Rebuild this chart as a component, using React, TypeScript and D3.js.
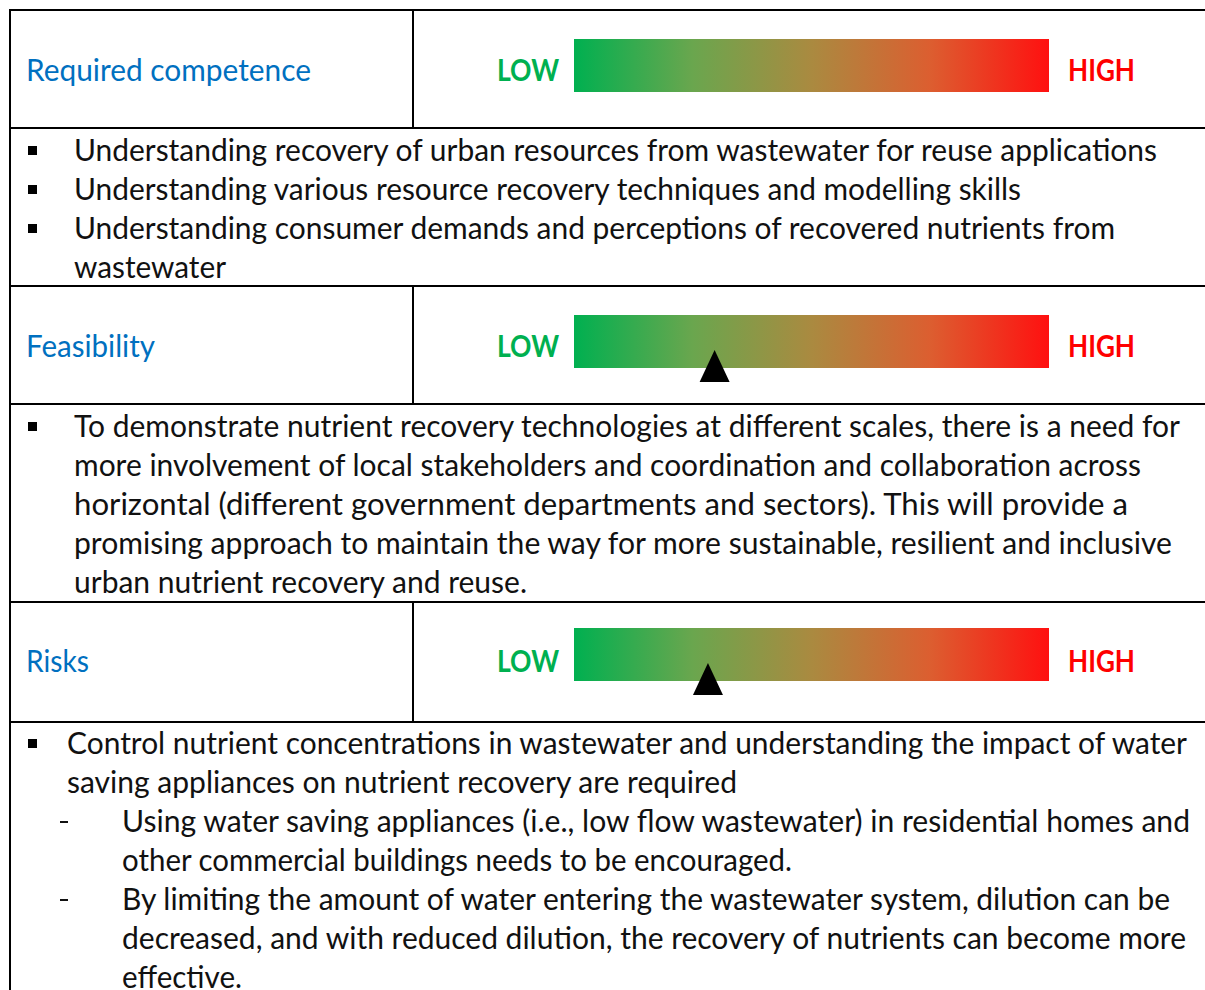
import React from 'react';
import * as d3 from 'd3';

// gauge rows: label + marker value on a 0..10 scale (null = no marker)
const rowLabels = ['Required competence', 'Feasibility', 'Risks'];
const ratings: (number | null)[] = [null, 2.96, 2.82];
const scaleEnds = ['LOW', 'HIGH'];
const gradientStops = ['#00B050', '#6AA64E', '#AA8A40', '#DC5E30', '#FF1010'];

const competenceLines = [
  'Understanding recovery of urban resources from wastewater for reuse applications',
  'Understanding various resource recovery techniques and modelling skills',
  'Understanding consumer demands and perceptions of recovered nutrients from',
  'wastewater'
];
const feasibilityLines = [
  'To demonstrate nutrient recovery technologies at different scales, there is a need for',
  'more involvement of local stakeholders and coordination and collaboration across',
  'horizontal (different government departments and sectors). This will provide a',
  'promising approach to maintain the way for more sustainable, resilient and inclusive',
  'urban nutrient recovery and reuse.'
];
const riskLines = [
  'Control nutrient concentrations in wastewater and understanding the impact of water',
  'saving appliances on nutrient recovery are required',
  'Using water saving appliances (i.e., low flow wastewater) in residential homes and',
  'other commercial buildings needs to be encouraged.',
  'By limiting the amount of water entering the wastewater system, dilution can be',
  'decreased, and with reduced dilution, the recovery of nutrients can become more',
  'effective.'
];

const W = 1205;
const H = 990;
const FONT = 'Lato, Carlito, Calibri, sans-serif';
const LINE = 39;

// measured right ends of each line, used to keep widths like the original
const competenceEnds = [1157, 1021, 1115, 226];
const feasibilityEnds = [1180, 1141, 1128, 1172, 527];
const riskEnds = [1187, 737, 1190, 792, 1170, 1186, 242];
const riskIndent = [67, 67, 122, 122, 122, 122, 122];
const riskBullets = ['square', null, 'dash', null, 'dash', null, null];

const labelEnds = [311, 155, 89];

const headerTops = [10, 286, 602];
const headerBottoms = [128, 404, 722];
const barTops = [39, 315, 628];
const labelBases = [81, 357, 672];

const x = d3.scaleLinear().domain([0, 10]).range([574, 1049]);

function Gauge({ barTop, base, value, idx }: { barTop: number; base: number; value: number | null; idx: number }) {
  const barH = 53;
  const triBase = barTop + barH + 14;
  const cx = value == null ? 0 : x(value);
  const tri = value == null ? null : d3.line()([
    [cx, barTop + 35],
    [cx - 15, triBase],
    [cx + 15, triBase]
  ]) + 'Z';
  return (
    <g>
      <text x={497} y={base} textLength={62} lengthAdjust="spacingAndGlyphs"
        fontFamily={FONT} fontWeight={700} fontSize={30} fill="#00B050">{scaleEnds[0]}</text>
      <rect x={x(0)} y={barTop} width={x(10) - x(0)} height={barH} fill={`url(#grad${idx})`} />
      <text x={1068} y={base} textLength={67} lengthAdjust="spacingAndGlyphs"
        fontFamily={FONT} fontWeight={700} fontSize={30} fill="#FF0000">{scaleEnds[1]}</text>
      {tri && <path d={tri} fill="#000" />}
    </g>
  );
}

function Lines({ lines, ends, starts, firstBase }: { lines: string[]; ends: number[]; starts: number[]; firstBase: number }) {
  return (
    <g fontFamily={FONT} fontSize={30} fill="#111">
      {lines.map((t, i) => (
        <text key={i} x={starts[i]} y={firstBase + i * LINE} textLength={ends[i] - starts[i]}
          lengthAdjust="spacingAndGlyphs">{t}</text>
      ))}
    </g>
  );
}

function Bullet({ y }: { y: number }) {
  return <rect x={28} y={y - 15} width={9} height={9} fill="#000" />;
}

export default function App() {
  const hLines = [10, 128, 286, 404, 602, 722];
  return (
    <svg width={W} height={H} style={{ position: 'absolute', left: 0, top: 0, background: '#fff' }}>
      <defs>
        {rowLabels.map((_, i) => (
          <linearGradient key={i} id={`grad${i}`} x1="0" x2="1" y1="0" y2="0">
            {gradientStops.map((c, j) => (
              <stop key={j} offset={j / (gradientStops.length - 1)} stopColor={c} />
            ))}
          </linearGradient>
        ))}
      </defs>
      <rect width={W} height={H} fill="#fff" />

      {/* header rows */}
      {rowLabels.map((lab, i) => (
        <g key={lab}>
          <text x={26} y={labelBases[i]} textLength={labelEnds[i] - 26} lengthAdjust="spacingAndGlyphs"
            fontFamily={FONT} fontSize={30} fill="#0070C0">{lab}</text>
          <Gauge barTop={barTops[i]} base={labelBases[i]} value={ratings[i]} idx={i} />
          <line x1={413} x2={413} y1={headerTops[i]} y2={headerBottoms[i]} stroke="#000" strokeWidth={2} />
        </g>
      ))}

      {/* competence bullets */}
      {[0, 1, 2].map(i => <Bullet key={i} y={161 + i * LINE} />)}
      <Lines lines={competenceLines} ends={competenceEnds} starts={competenceLines.map(() => 74)} firstBase={161} />

      {/* feasibility paragraph */}
      <Bullet y={437} />
      <Lines lines={feasibilityLines} ends={feasibilityEnds} starts={feasibilityLines.map(() => 74)} firstBase={437} />

      {/* risks */}
      {riskBullets.map((b, i) => {
        const y = 754 + i * LINE;
        if (b === 'square') return <Bullet key={i} y={y} />;
        if (b === 'dash') return <rect key={i} x={60} y={y - 11} width={8} height={2} fill="#111" />;
        return null;
      })}
      <Lines lines={riskLines} ends={riskEnds} starts={riskIndent} firstBase={754} />

      {/* table rules */}
      {hLines.map(y => (
        <line key={y} x1={9} x2={W} y1={y} y2={y} stroke="#000" strokeWidth={2} />
      ))}
      <line x1={10} x2={10} y1={9} y2={H} stroke="#000" strokeWidth={2} />
    </svg>
  );
}
